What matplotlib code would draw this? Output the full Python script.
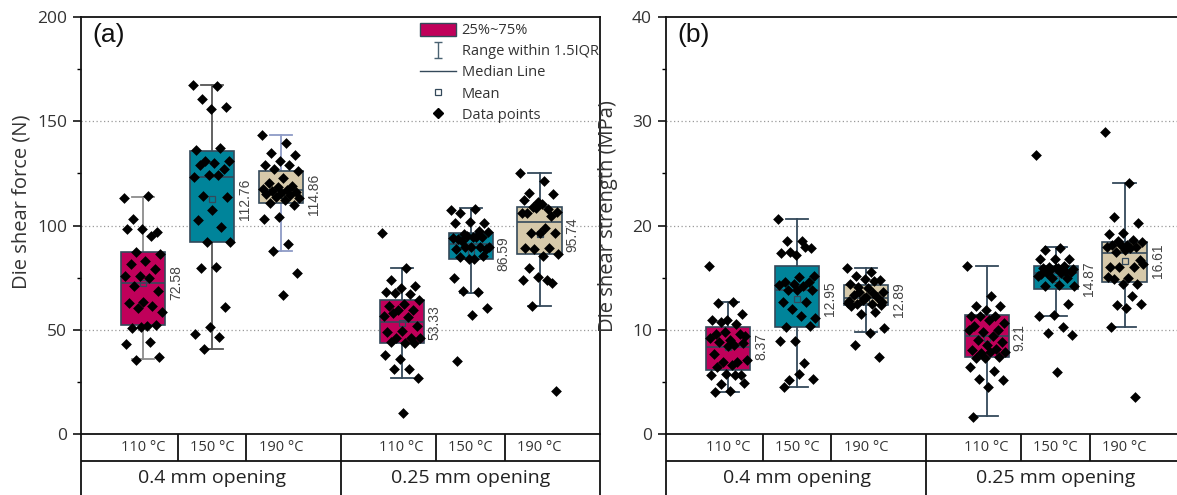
import matplotlib
matplotlib.use("Agg")
import matplotlib.pyplot as plt
import numpy as np
from matplotlib.transforms import blended_transform_factory
from matplotlib.lines import Line2D
from matplotlib.patches import Patch
from matplotlib.path import Path

# ---------------- data ----------------
temps = ["110 °C", "150 °C", "190 °C", "110 °C", "150 °C", "190 °C"]
groups = ["0.4 mm opening", "0.25 mm opening"]

# panel (a) Die shear force (N)
q1_a = [52.1, 92.2, 110.6, 43.6, 83.7, 86.2]
med_a = [72.4, 123.4, 117.0, 53.7, 91.3, 101.8]
q3_a = [87.2, 135.7, 126.1, 64.1, 96.5, 108.8]
wlo_a = [36.0, 41.0, 87.8, 26.8, 67.6, 61.5]
whi_a = [113.9, 167.3, 143.6, 79.8, 108.2, 125.0]
mean_a = [72.58, 112.76, 114.86, 53.33, 86.59, 95.74]

a1 = [113.3, 114.1, 103.2, 97.0, 98.4, 98.1, 94.9, 87.2, 86.5, 82.8, 81.7, 79.3, 76.0, 76.0, 74.8,
      70.8, 68.7, 63.1, 62.8, 61.2, 60.2, 58.6, 51.6, 50.6, 52.2, 51.2, 43.1, 44.1, 35.6, 36.9]
a2 = [167.3, 167.0, 160.5, 157.0, 156.0, 136.2, 137.2, 130.8, 131.1, 129.8, 128.8, 126.9, 124.4, 123.4,
      124.4, 114.1, 113.5, 107.4, 102.5, 99.4, 92.2, 92.2, 80.3, 79.7, 60.7, 51.3, 48.2, 46.5, 41.0]
a3 = [143.6, 139.8, 134.9, 133.7, 130.8, 128.8, 128.8, 126.9, 126.0, 122.9, 120.5, 119.0, 118.5, 117.5,
      117.0, 116.5, 116.0, 115.5, 115.0, 114.5, 113.8, 113.0, 112.0, 111.0, 110.0, 104.2, 103.2, 90.9,
      87.6, 77.3, 66.8]
a4 = [96.2, 79.6, 73.7, 70.8, 69.9, 67.9, 67.3, 67.6, 64.4, 62.5, 61.2, 59.6, 59.6, 56.4, 56.1, 58.0,
      51.6, 49.2, 48.7, 46.0, 46.0, 46.0, 43.6, 44.2, 43.6, 36.0, 38.0, 31.1, 31.1, 26.8, 9.9]
a5 = [107.4, 108.0, 105.8, 101.0, 101.6, 101.0, 97.3, 95.7, 97.0, 94.6, 93.6, 94.6, 94.9, 94.1, 94.6,
      92.5, 88.8, 89.8, 88.8, 89.8, 89.8, 89.8, 84.0, 84.9, 85.2, 84.0, 74.8, 67.9, 68.4, 60.4, 57.2, 35.2]
a6 = [125.0, 121.3, 115.4, 114.9, 111.2, 112.2, 108.0, 109.0, 106.4, 110.1, 106.1, 104.5, 108.5, 106.0,
      98.9, 96.2, 96.2, 96.2, 89.3, 89.3, 88.5, 86.1, 85.2, 79.7, 72.4, 75.3, 74.0, 73.7, 61.5, 20.8]

# panel (b) Die shear strength (MPa)
q1_b = [6.15, 10.26, 12.37, 7.34, 13.91, 14.58]
med_b = [8.30, 13.85, 13.05, 9.36, 15.45, 17.37]
q3_b = [10.22, 16.15, 14.30, 11.38, 16.15, 18.40]
wlo_b = [4.07, 4.55, 9.74, 1.73, 11.28, 10.26]
whi_b = [12.63, 20.58, 15.90, 16.09, 17.95, 24.04]
mean_b = [8.37, 12.95, 12.89, 9.21, 14.87, 16.61]

b1 = [16.15, 12.63, 12.56, 11.47, 10.96, 10.96, 10.58, 10.77, 9.36, 9.04, 9.62, 9.62, 9.74, 9.17, 8.53,
      8.78, 8.72, 8.40, 7.69, 6.95, 6.92, 7.12, 6.60, 6.47, 5.64, 5.77, 5.67, 5.70, 4.81, 4.87, 4.17, 4.04]
b2 = [20.58, 18.56, 18.56, 17.82, 17.18, 17.37, 17.95, 17.50, 15.19, 15.07, 14.55, 14.55, 14.42, 14.30,
      14.23, 13.85, 13.85, 13.78, 12.69, 12.69, 11.99, 11.12, 11.35, 10.26, 10.32, 8.91, 8.91, 6.80, 5.19,
      5.32, 5.77, 4.55]
b3 = [15.90, 15.52, 15.20, 14.80, 14.90, 14.42, 14.70, 13.65, 13.65, 13.97, 13.33, 13.14, 12.88, 12.56,
      12.50, 12.50, 12.37, 13.14, 12.24, 11.67, 11.54, 10.16, 9.68, 8.56, 7.43, 13.00, 12.80, 13.50, 14.10,
      12.70]
b4 = [16.09, 13.27, 12.24, 12.31, 11.92, 11.28, 11.35, 11.28, 10.64, 10.90, 10.32, 9.93, 9.81, 10.00,
      9.36, 9.04, 8.78, 8.56, 8.08, 8.14, 7.76, 7.82, 7.82, 7.28, 7.43, 7.28, 6.38, 6.09, 5.26, 5.19, 4.49,
      1.67]
b5 = [26.8, 17.88, 17.69, 16.79, 16.79, 16.79, 16.15, 16.03, 15.83, 15.90, 15.90, 14.97, 14.97, 15.13,
      15.45, 15.45, 15.55, 15.90, 15.30, 15.60, 15.70, 14.23, 14.30, 14.16, 12.50, 11.44, 11.28, 10.26,
      9.68, 9.52, 5.93]
b6 = [29.0, 24.04, 20.84, 20.26, 19.30, 19.23, 18.65, 18.53, 18.40, 18.14, 18.14, 17.95, 18.14, 17.95,
      17.82, 17.43, 16.67, 17.69, 16.03, 16.03, 16.03, 16.35, 14.97, 14.87, 14.42, 14.42, 15.07, 13.27,
      12.37, 12.50, 12.12, 10.26, 3.53]

# ---------------- style ----------------
positions = [1, 2, 3, 4.75, 5.75, 6.75]
box_colors = ["#C0005A", "#00849A", "#D6C9AA", "#C0005A", "#00849A", "#D6C9AA"]
edge = "#34495A"
whisk_a = ["#8C8C8C", "#555555", "#8E9BC6", edge, edge, edge]
whisk_b = [edge] * 6
TXT = "#333333"
SANS = ["Open Sans", "DejaVu Sans"]
ARIAL = ["Liberation Sans", "DejaVu Sans"]

W, H = 1177, 495
fig = plt.figure(figsize=(W / 100, H / 100), dpi=100)

ax_top, ax_bot = 17, 434
axh = (ax_bot - ax_top) / H
axw = 519 / W
ax_a = fig.add_axes([81 / W, (H - ax_bot) / H, axw, axh])
ax_b = fig.add_axes([666 / W, (H - ax_bot) / H, axw, axh])


def panel(ax, q1, med, q3, wlo, whi, means, pts, ymax, major, minor, wcols, fmt):
    stats = []
    for i in range(6):
        stats.append(dict(q1=q1[i], med=med[i], q3=q3[i], whislo=wlo[i], whishi=whi[i],
                          mean=means[i], fliers=[]))
    bp = ax.bxp(stats, positions=positions, widths=0.64, patch_artist=True, showmeans=True,
                showfliers=False, capwidths=0.32,
                boxprops=dict(edgecolor=edge, linewidth=1.2),
                medianprops=dict(color=edge, linewidth=1.2),
                meanprops=dict(marker="s", markersize=4.5, markerfacecolor="none",
                               markeredgecolor=edge, markeredgewidth=0.9),
                whiskerprops=dict(linewidth=1.3), capprops=dict(linewidth=1.3))
    for i, b in enumerate(bp["boxes"]):
        b.set_facecolor(box_colors[i])
        b.set_zorder(2)
    for i in range(6):
        for art in bp["whiskers"][2 * i:2 * i + 2] + bp["caps"][2 * i:2 * i + 2]:
            art.set_color(wcols[i])
            art.set_zorder(1.5)
    for m in bp["medians"]:
        m.set_zorder(2.5)
    for m in bp["means"]:
        m.set_zorder(2.6)
    # data points with a fixed, deterministic spread
    for i, vals in enumerate(pts):
        n = len(vals)
        offs = np.array([((k * 0.618034) % 1.0 - 0.5) * 0.56 for k in range(n)])
        ax.scatter(positions[i] + offs, vals, marker="D", s=30, color="black", zorder=4, linewidths=0)
    # mean labels
    for i in range(6):
        ax.annotate(fmt.format(means[i]), xy=(positions[i] + 0.32, means[i]), xytext=(3, 0),
                    textcoords="offset points", rotation=90, ha="left", va="center",
                    fontsize=10, color="#444444", family=ARIAL)

    ax.set_xlim(0.1, 7.627)
    ax.set_ylim(0, ymax)
    ax.set_yticks(np.arange(0, ymax + 0.001, major))
    ax.set_yticks(np.arange(0, ymax + 0.001, minor), minor=True)
    ax.set_xticks([])
    ax.tick_params(axis="y", which="major", direction="out", length=6, width=1.1, pad=4,
                   labelsize=12.5, labelcolor=TXT)
    ax.tick_params(axis="y", which="minor", direction="out", length=3, width=1.0)
    for lab in ax.get_yticklabels():
        lab.set_family(SANS)
    for y in np.arange(major, ymax - 0.001, major):
        ax.axhline(y, color="#9a9a9a", lw=0.9, ls=(0, (1, 2)), zorder=0)
    for s in ax.spines.values():
        s.set_linewidth(1.3)
        s.set_color("#111111")

    # category table beneath the axis
    tr = blended_transform_factory(ax.transData, ax.transAxes)
    r1 = -(461 - 434) / (ax_bot - ax_top)
    bottom = -0.25
    lk = dict(color="#111111", lw=1.3, clip_on=False, solid_capstyle="butt")
    ax.plot([0, 1], [r1, r1], transform=ax.transAxes, **lk)
    ax.plot([0, 0], [0, bottom], transform=ax.transAxes, **lk)
    ax.plot([1, 1], [0, bottom], transform=ax.transAxes, **lk)
    for k in range(5):
        xm = (positions[k] + positions[k + 1]) / 2
        ytop = bottom if k == 2 else r1
        ax.plot([xm, xm], [0, ytop], transform=tr, **lk)
    for k in range(6):
        ax.text(positions[k], r1 / 2, temps[k], transform=tr, ha="center", va="center",
                fontsize=10.5, color=TXT, family=SANS)
    yr2 = (434 - 478) / (ax_bot - ax_top)
    ax.text(positions[1], yr2, groups[0], transform=tr, ha="center", va="center",
            fontsize=14, color="#222222", family=SANS)
    ax.text(positions[4], yr2, groups[1], transform=tr, ha="center", va="center",
            fontsize=14, color="#222222", family=SANS)


panel(ax_a, q1_a, med_a, q3_a, wlo_a, whi_a, mean_a, [a1, a2, a3, a4, a5, a6], 200, 50, 25,
      whisk_a, "{:.2f}")
panel(ax_b, q1_b, med_b, q3_b, wlo_b, whi_b, mean_b, [b1, b2, b3, b4, b5, b6], 40, 10, 5,
      whisk_b, "{:.2f}")

ax_a.text(0.021, 0.985, "(a)", transform=ax_a.transAxes, ha="left", va="top", fontsize=19,
          color="#111111", family=ARIAL)
ax_b.text(0.021, 0.985, "(b)", transform=ax_b.transAxes, ha="left", va="top", fontsize=19,
          color="#111111", family=ARIAL)

fig.text(22 / W, (H - 202) / H, "Die shear force (N)", rotation=90, ha="center", va="center",
         fontsize=14.5, color=TXT, family=SANS)
fig.text(608 / W, (H - 216) / H, "Die shear strength (MPa)", rotation=90, ha="center", va="center",
         fontsize=14.5, color=TXT, family=SANS)

# legend
vpath = Path([(-0.5, 1), (0.5, 1), (0, 1), (0, -1), (-0.5, -1), (0.5, -1)],
             [Path.MOVETO, Path.LINETO, Path.MOVETO, Path.LINETO, Path.MOVETO, Path.LINETO])
handles = [
    Patch(facecolor=box_colors[0], edgecolor=edge, linewidth=1.0),
    Line2D([], [], linestyle="none", marker=vpath, markersize=12, markeredgecolor="#4a6272",
           markerfacecolor="none", markeredgewidth=1.0),
    Line2D([], [], color=edge, lw=1.0),
    Line2D([], [], linestyle="none", marker="s", markersize=4, markerfacecolor="none",
           markeredgecolor=edge, markeredgewidth=0.9),
    Line2D([], [], linestyle="none", marker="D", markersize=5, color="black"),
]
labels = ["25%~75%", "Range within 1.5IQR", "Median Line", "Mean", "Data points"]
leg = ax_a.legend(handles, labels, loc="upper left", bbox_to_anchor=(0.642, 1.0), frameon=False,
                  fontsize=10.5, handlelength=2.5, handleheight=1.0, handletextpad=0.35,
                  labelspacing=0.38, borderaxespad=0.2, borderpad=0.2)
for t in leg.get_texts():
    t.set_color(TXT)
    t.set_family(SANS)

fig.savefig("out.png", dpi=100)
